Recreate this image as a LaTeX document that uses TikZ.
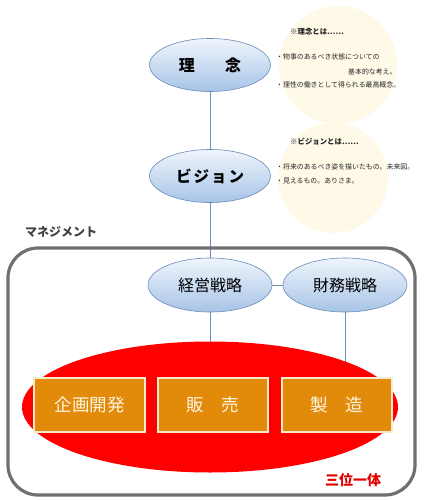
\documentclass[tikz,border=0pt]{standalone}
\usepackage{fontspec}
\newfontfamily\cjk{Noto Sans CJK JP}
\usetikzlibrary{shapes.geometric}
\pgfdeclarelayer{background}
\pgfsetlayers{background,main}
\definecolor{ovaltop}{RGB}{240,245,252}
\definecolor{ovalbot}{RGB}{166,196,230}
\definecolor{ovalborder}{RGB}{105,140,185}
\definecolor{conncol}{RGB}{110,145,185}
\definecolor{creamcol}{RGB}{255,249,232}
\definecolor{boxorange}{RGB}{226,138,10}
\definecolor{boxborder}{RGB}{248,234,205}
\definecolor{boxtext}{RGB}{255,246,228}
\definecolor{framecol}{RGB}{112,112,112}
\definecolor{labelgray}{RGB}{64,64,64}
\definecolor{redtext}{RGB}{224,0,0}
\begin{document}
\begin{tikzpicture}[x=1pt,y=-1pt,
  oval/.style={ellipse, draw=ovalborder, line width=0.6pt, top color=ovaltop, bottom color=ovalbot,
    minimum width=121, minimum height=53, inner sep=0pt, font=\cjk\fontsize{16}{16}\selectfont},
  bizbox/.style={rectangle, fill=boxorange, draw=boxborder, line width=1.3pt,
    minimum width=110, minimum height=54, inner sep=0pt, text=boxtext, font=\cjk\fontsize{17.5}{18}\selectfont},
  conn/.style={draw=conncol, line width=0.8pt},
  cream/.style={circle, fill=creamcol, inner sep=0pt},
  note/.style={anchor=west, inner sep=0pt, font=\cjk\fontsize{6.9}{7}\selectfont, text=black!85},
  notehead/.style={note, font=\cjk\bfseries\fontsize{7.4}{7.5}\selectfont},
  frame/.style={rectangle, draw=framecol, line width=3.2pt, rounded corners=30pt, inner sep=0pt}]
\useasboundingbox (0,0) rectangle (429,500);

% ideas / vision
\node[oval, font=\cjk\bfseries\fontsize{16}{16}\selectfont] (rinen) at (210,65) {理\hspace{1.9em}念\hspace{8pt}};
\node[oval, font=\cjk\bfseries\fontsize{15.5}{16}\selectfont] (vision) at (210,176) {ビ\hspace{2pt}ジ\hspace{2pt}ョ\hspace{2pt}ン\hspace{8pt}};

% notes
\node[notehead] (n1) at (290,32) {※理念とは……};
\node[note] (n2) at (276,57) {・物事のあるべき状態についての};
\node[note] (n3) at (348,72) {基本的な考え。};
\node[note] (n4) at (276,85) {・理性の働きとして得られる最高概念。};
\node[notehead] (v1) at (290,142) {※ビジョンとは……};
\node[note] (v2) at (276,167) {・将来のあるべき姿を描いたもの。未来図。};
\node[note] (v3) at (276,181) {・見えるもの。ありさま。};

% management frame
\node[frame, minimum width=407, minimum height=247] (mgmt) at (211.5,371.5) {};
\node[anchor=west, inner sep=0pt, text=labelgray, font=\cjk\bfseries\fontsize{12}{12}\selectfont] (mlabel) at (25,232) {マネジメント};

\node[oval, minimum width=124, minimum height=54] (keiei) at (210,285) {経営戦略\hspace{8pt}};
\node[oval, minimum width=124, minimum height=54] (zaimu) at (345,285) {財務戦略\hspace{8pt}};

\node[ellipse, fill=red, minimum width=376, minimum height=131, inner sep=0pt] (redell) at (210,407) {};
\node[bizbox, minimum width=111] (kikaku) at (89.5,405) {企画開発\hspace{6pt}};
\node[bizbox] (hanbai) at (213,405) {販\hspace{1em}売\hspace{6pt}};
\node[bizbox] (seizo) at (337,405) {製\hspace{1em}造\hspace{6pt}};

\node[anchor=west, inner sep=0pt, text=redtext, font=\cjk\bfseries\fontsize{14}{14}\selectfont] (sanmi) at (325,480) {三位一体};

\begin{pgfonlayer}{background}
  \node[cream, minimum size=118] (c1) at (338,65) {};
  \node[cream, minimum size=110] (c2) at (333,178) {};
  \draw[conn] (rinen) -- (vision);
  \draw[conn] (vision) -- (keiei);
  \draw[conn] (keiei) -- (zaimu);
  \draw[conn] (keiei.south) -- (redell.center);
  \draw[conn] (zaimu.south) -- (zaimu.south |- redell.center);
\end{pgfonlayer}
\end{tikzpicture}
\end{document}
